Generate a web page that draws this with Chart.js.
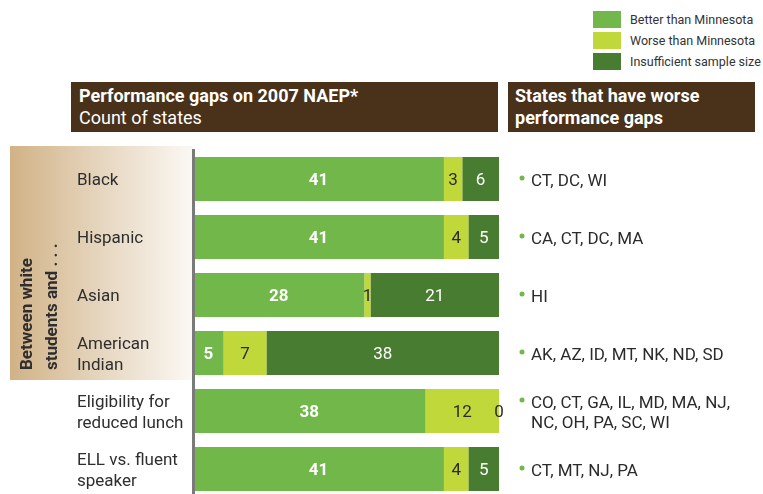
<!DOCTYPE html>
<html>
<head>
<meta charset="utf-8">
<script src="https://cdn.jsdelivr.net/npm/chart.js@4.4.0/dist/chart.umd.min.js"></script>
<style>
  body { margin: 0; width: 763px; height: 494px; overflow: hidden; background: #fff; position: relative; font-family: Roboto, "Liberation Sans", sans-serif; }
  #tan { position: absolute; left: 10px; top: 146px; width: 182px; height: 234px;
         background: linear-gradient(to right, #d1b286 0%, #e6d6bf 50%, #fbf8f4 100%); }
  .hdr { position: absolute; top: 82px; height: 50px; background: #4a3119; color: #fff;
         font-size: 18px; line-height: 22px; padding-top: 3px; box-sizing: border-box; white-space: nowrap; }
  #h1 { left: 71px; width: 427px; padding-left: 8px; }
  #h2 { left: 508px; width: 247px; padding-left: 7px; font-weight: bold; }
  .leg { position: absolute; left: 593px; height: 17px; font-size: 12.5px; line-height: 17px; color: #333; white-space: nowrap; }
  .leg span { display: inline-block; width: 28px; height: 17px; vertical-align: top; margin-right: 9px; }
  canvas { position: absolute; left: 0; top: 0; }
</style>
</head>
<body>
<div id="tan"></div>
<div class="hdr" id="h1"><b>Performance gaps on 2007 NAEP*</b><br>Count of states</div>
<div class="hdr" id="h2">States that have worse<br>performance gaps</div>
<div id="legend"></div>
<canvas id="grafico" width="763" height="498"></canvas>
<script>
// datos
const categorias = [['Black'], ['Hispanic'], ['Asian'], ['American', 'Indian'],
  ['Eligibility for', 'reduced lunch'], ['ELL vs. fluent', 'speaker']];
const mejor = [41, 41, 28, 5, 38, 41];
const peor = [3, 4, 1, 7, 12, 4];
const insuficiente = [6, 5, 21, 38, 0, 5];
const series = ['Better than Minnesota', 'Worse than Minnesota', 'Insufficient sample size'];
const colores = ['#72b74a', '#c0d83a', '#487c30'];
const estados = [['CT, DC, WI'], ['CA, CT, DC, MA'], ['HI'], ['AK, AZ, ID, MT, NK, ND, SD'],
  ['CO, CT, GA, IL, MD, MA, NJ,', 'NC, OH, PA, SC, WI'], ['CT, MT, NJ, PA']];
const grupo = ['Between white', 'students and . . .'];

// leyenda
const leg = document.getElementById('legend');
series.forEach((s, i) => {
  const d = document.createElement('div');
  d.className = 'leg';
  d.style.top = (11 + i * 21) + 'px';
  d.innerHTML = '<span style="background:' + colores[i] + '"></span>' + s;
  leg.appendChild(d);
});

const FONT = 'Roboto, "Liberation Sans", sans-serif';

// textos dibujados sobre el canvas
const textos = {
  id: 'textos',
  afterDatasetsDraw(chart) {
    const ctx = chart.ctx;
    const y = chart.scales.y;
    ctx.save();

    // etiquetas de valores
    chart.data.datasets.forEach((ds, di) => {
      const meta = chart.getDatasetMeta(di);
      meta.data.forEach((el, i) => {
        const v = ds.data[i];
        const cx = (el.x + el.base) / 2;
        ctx.font = (di === 0 ? 'bold ' : '') + '17px ' + FONT;
        ctx.fillStyle = (di === 1 || v === 0) ? '#2b2b2b' : '#ffffff';
        ctx.textAlign = 'center';
        ctx.textBaseline = 'alphabetic';
        ctx.fillText(String(v), cx, el.y + 6);
      });
    });

    // categorias
    ctx.font = '17px ' + FONT;
    ctx.fillStyle = '#2e2e2e';
    ctx.textAlign = 'left';
    categorias.forEach((lineas, i) => {
      const cy = y.getPixelForValue(i);
      lineas.forEach((t, k) => {
        ctx.fillText(t, 77, cy + 6 + (k - (lineas.length - 1) / 2) * 21);
      });
    });

    // estados
    estados.forEach((lineas, i) => {
      const cy = y.getPixelForValue(i);
      lineas.forEach((t, k) => {
        const by = cy + 7 + (k - (lineas.length - 1) / 2) * 20;
        ctx.fillStyle = '#2b2b2b';
        ctx.font = '17px ' + FONT;
        ctx.fillText(t, 531, by);
        if (k === 0) {
          ctx.fillStyle = colores[0];
          ctx.beginPath();
          ctx.arc(522, by - 8, 2.5, 0, Math.PI * 2);
          ctx.fill();
        }
      });
    });

    // etiqueta del grupo (rotada)
    ctx.translate(0, 370);
    ctx.rotate(-Math.PI / 2);
    ctx.font = 'bold 17px ' + FONT;
    ctx.fillStyle = '#2e2e2e';
    ctx.textBaseline = 'middle';
    ctx.fillText(grupo[0], 0, 28);
    ctx.fillText(grupo[1], 0, 53);
    ctx.restore();
  }
};

const ctx = document.getElementById('grafico').getContext('2d');
const grafico = new Chart(ctx, {
  type: 'bar',
  data: {
    labels: categorias.map(c => c.join(' ')),
    datasets: [
      { label: series[0], data: mejor, backgroundColor: colores[0] },
      { label: series[1], data: peor, backgroundColor: colores[1] },
      { label: series[2], data: insuficiente, backgroundColor: colores[2] },
    ].map(d => Object.assign(d, { borderWidth: 0, categoryPercentage: 1, barPercentage: 0.76 })),
  },
  options: {
    indexAxis: 'y',
    responsive: false,
    animation: false,
    layout: { padding: { left: 193, right: 264, top: 150, bottom: 0 } },
    scales: {
      x: { stacked: true, min: 0, max: 50, display: false },
      y: {
        stacked: true,
        ticks: { display: false },
        grid: { display: false, drawTicks: false },
        border: { display: true, color: '#7a7a7a', width: 3, z: 1 },
      },
    },
    plugins: {
      legend: { display: false },
      tooltip: { enabled: false },
    },
  },
  plugins: [textos],
});
</script>
</body>
</html>
